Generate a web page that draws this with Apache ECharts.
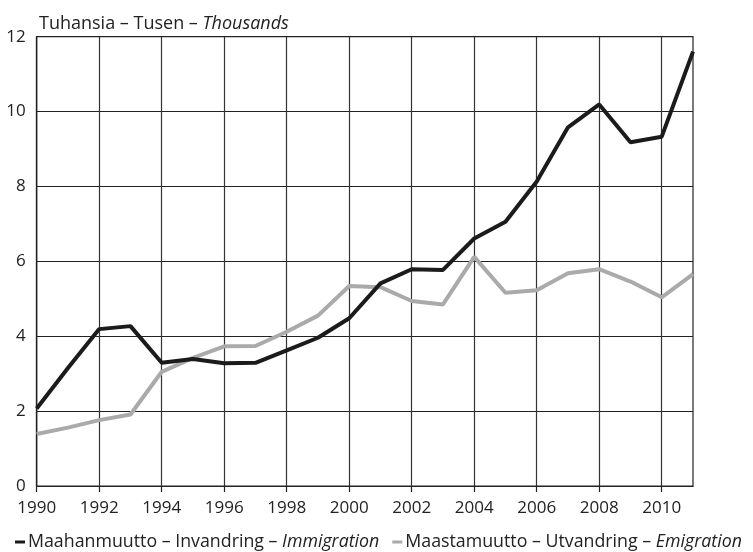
<!DOCTYPE html>
<html>
<head>
<meta charset="utf-8">
<script src="https://cdn.jsdelivr.net/npm/echarts@6/dist/echarts.min.js"></script>
<style>html,body{margin:0;padding:0;background:#fff}#c{width:753px;height:552px}</style>
</head>
<body>
<div id="c"></div>
<script>
const years = ['1990','1991','1992','1993','1994','1995','1996','1997','1998','1999','2000','2001','2002','2003','2004','2005','2006','2007','2008','2009','2010','2011'];
const immigration = [2.07, 3.15, 4.19, 4.27, 3.29, 3.39, 3.28, 3.29, 3.62, 3.96, 4.48, 5.41, 5.79, 5.77, 6.61, 7.06, 8.13, 9.58, 10.19, 9.18, 9.33, 11.6];
const emigration = [1.39, 1.56, 1.76, 1.91, 3.05, 3.42, 3.73, 3.74, 4.12, 4.55, 5.34, 5.31, 4.94, 4.85, 6.12, 5.16, 5.23, 5.68, 5.79, 5.46, 5.04, 5.66];
const yTicks = [0, 2, 4, 6, 8, 10, 12];

const FONT = '"Open Sans", sans-serif';
const chart = echarts.init(document.getElementById('c'));
chart.setOption({
  backgroundColor: '#fff',
  animation: false,
  textStyle: { fontFamily: FONT },
  title: {
    text: 'Tuhansia – Tusen – {i|Thousands}',
    left: 34, top: 10,
    textStyle: {
      fontFamily: FONT, fontSize: 18, fontWeight: 'normal', color: '#222',
      rich: { i: { fontFamily: FONT, fontSize: 18, fontStyle: 'italic', color: '#222' } }
    }
  },
  legend: {
    left: 10, top: 528, width: 900, orient: 'horizontal',
    itemWidth: 10, itemHeight: 3, itemGap: 13,
    icon: 'rect',
    data: ['imm', 'emi'],
    formatter: function (n) {
      return n === 'imm' ? 'Maahanmuutto – Invandring – {i|Immigration}' : 'Maastamuutto – Utvandring – {i|Emigration}';
    },
    textStyle: {
      fontFamily: FONT, fontSize: 17.8, color: '#222', padding: [0, 0, 0, -2],
      rich: { i: { fontFamily: FONT, fontSize: 17.8, fontStyle: 'italic', color: '#222' } }
    }
  },
  grid: {
    left: 36.7, right: 60, top: 36.7, bottom: 66,
    show: true, borderColor: '#222', borderWidth: 1.2
  },
  xAxis: {
    type: 'category', data: years, boundaryGap: false,
    axisLine: { lineStyle: { color: '#222', width: 1.2 } },
    axisTick: { show: true, interval: 1, length: 6, lineStyle: { color: '#222', width: 1.2 } },
    axisLabel: { interval: 1, color: '#222', fontSize: 17, fontFamily: FONT, margin: 14 },
    splitLine: { show: true, interval: 1, lineStyle: { color: '#333', width: 1.2 } }
  },
  yAxis: {
    type: 'value', min: 0, max: 12, interval: 2,
    axisLine: { show: true, lineStyle: { color: '#222', width: 1.2 } },
    axisTick: { show: false },
    axisLabel: { color: '#222', fontSize: 17, fontFamily: FONT, margin: 11,
      formatter: function (v) { return yTicks.indexOf(v) >= 0 ? String(v) : ''; } },
    splitLine: { show: true, lineStyle: { color: '#222', width: 1.2 } }
  },
  series: [
    { name: 'emi', type: 'line', data: emigration, showSymbol: false, symbol: 'none',
      color: '#aaaaab', lineStyle: { color: '#aaaaab', width: 4 }, z: 2 },
    { name: 'imm', type: 'line', data: immigration, showSymbol: false, symbol: 'none',
      color: '#1c1a1a', lineStyle: { color: '#1c1a1a', width: 4 }, z: 3 }
  ]
});
</script>
</body>
</html>
